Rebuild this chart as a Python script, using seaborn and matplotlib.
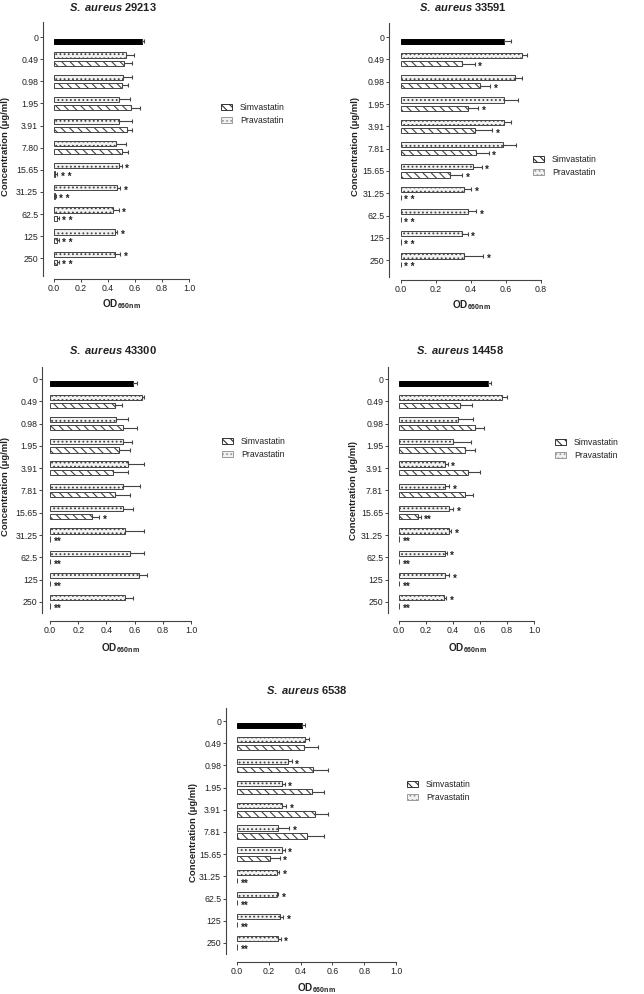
import numpy as np
import pandas as pd
import matplotlib
matplotlib.use("Agg")
import matplotlib.pyplot as plt
import seaborn as sns
from matplotlib.patches import Patch

# ---------------- data ----------------
conc_29213 = ['0', '0.49', '0.98', '1.95', '3.91', '7.80', '15.65', '31.25', '62.5', '125', '250']
conc_std = ['0', '0.49', '0.98', '1.95', '3.91', '7.81', '15.65', '31.25', '62.5', '125', '250']

# S. aureus 29213
ctrl_29213, ctrl_err_29213 = 0.65, 0.02
prav_29213 = [0.53, 0.51, 0.48, 0.48, 0.46, 0.48, 0.47, 0.44, 0.45, 0.45]
prav_err_29213 = [0.06, 0.07, 0.08, 0.10, 0.07, 0.02, 0.02, 0.04, 0.02, 0.04]
simv_29213 = [0.52, 0.50, 0.57, 0.54, 0.50, 0.01, 0.005, 0.02, 0.02, 0.025]
simv_err_29213 = [0.06, 0.05, 0.07, 0.04, 0.05, 0.015, 0.01, 0.015, 0.015, 0.01]
sigp_29213 = ['', '', '', '', '', '*', '*', '*', '*', '*']
sigs_29213 = ['', '', '', '', '', '* *', '* *', '* *', '* *', '* *']

# S. aureus 33591
ctrl_33591, ctrl_err_33591 = 0.59, 0.04
prav_33591 = [0.69, 0.65, 0.59, 0.59, 0.585, 0.41, 0.36, 0.38, 0.35, 0.36]
prav_err_33591 = [0.03, 0.04, 0.08, 0.04, 0.07, 0.05, 0.04, 0.05, 0.03, 0.11]
simv_33591 = [0.35, 0.45, 0.38, 0.42, 0.43, 0.28, 0, 0, 0, 0]
simv_err_33591 = [0.07, 0.06, 0.06, 0.10, 0.07, 0.07, 0, 0, 0, 0]
sigp_33591 = ['', '', '', '', '', '*', '*', '*', '*', '*']
sigs_33591 = ['*', '*', '*', '*', '*', '*', '* *', '* *', '* *', '* *']

# S. aureus 43300
ctrl_43300, ctrl_err_43300 = 0.59, 0.03
prav_43300 = [0.65, 0.47, 0.52, 0.55, 0.52, 0.52, 0.53, 0.57, 0.63, 0.53]
prav_err_43300 = [0.02, 0.08, 0.06, 0.12, 0.12, 0.07, 0.14, 0.10, 0.06, 0.06]
simv_43300 = [0.46, 0.52, 0.49, 0.45, 0.46, 0.30, 0, 0, 0, 0]
simv_err_43300 = [0.05, 0.10, 0.08, 0.10, 0.11, 0.05, 0, 0, 0, 0]
sigp_43300 = ['', '', '', '', '', '', '', '', '', '']
sigs_43300 = ['', '', '', '', '', '*', '**', '**', '**', '**']

# S. aureus 14458
ctrl_14458, ctrl_err_14458 = 0.66, 0.02
prav_14458 = [0.76, 0.44, 0.40, 0.34, 0.34, 0.37, 0.37, 0.34, 0.34, 0.33]
prav_err_14458 = [0.04, 0.11, 0.13, 0.02, 0.03, 0.03, 0.015, 0.015, 0.03, 0.02]
simv_14458 = [0.45, 0.56, 0.49, 0.51, 0.49, 0.14, 0, 0, 0, 0]
simv_err_14458 = [0.09, 0.07, 0.07, 0.09, 0.06, 0.02, 0, 0, 0, 0]
sigp_14458 = ['', '', '', '*', '*', '*', '*', '*', '*', '*']
sigs_14458 = ['', '', '', '', '', '**', '**', '**', '**', '**']

# S. aureus 6538
ctrl_6538, ctrl_err_6538 = 0.41, 0.02
prav_6538 = [0.43, 0.32, 0.28, 0.28, 0.26, 0.28, 0.25, 0.25, 0.27, 0.26]
prav_err_6538 = [0.02, 0.025, 0.02, 0.03, 0.07, 0.02, 0.015, 0.01, 0.02, 0.015]
simv_6538 = [0.42, 0.48, 0.47, 0.49, 0.44, 0.21, 0, 0, 0, 0]
simv_err_6538 = [0.09, 0.09, 0.08, 0.08, 0.11, 0.06, 0, 0, 0, 0]
sigp_6538 = ['', '*', '*', '*', '*', '*', '*', '*', '*', '*']
sigs_6538 = ['', '', '', '', '', '*', '**', '**', '**', '**']

# ---------------- style ----------------
sns.set_style("ticks")
plt.rcParams['font.family'] = ['Liberation Sans', 'DejaVu Sans']
plt.rcParams['mathtext.fontset'] = 'custom'
plt.rcParams['mathtext.rm'] = 'Liberation Sans:bold'
plt.rcParams['mathtext.bf'] = 'Liberation Sans:bold'
plt.rcParams['mathtext.it'] = 'Liberation Sans:italic:bold'
plt.rcParams['hatch.linewidth'] = 0.8

W, H = 644, 994
fig = plt.figure(figsize=(W / 100, H / 100), dpi=100)

EDGE = '#444444'
TXT = '#222222'
SIMV_HATCH = '\\\\\\\\'
PRAV_HATCH = '....'
PRAV_FACE = '#f2f2f2'
PRAV_HCOL = '#9a9a9a'
HUE_ORDER = ['Pravastatin', 'Simvastatin']


def px_axes(x0, x1, yt, yb):
    return fig.add_axes([x0 / W, 1 - yb / H, (x1 - x0) / W, (yb - yt) / H])


def draw_panel(ax, conc, ctrl, ctrl_err, prav, prav_err, simv, simv_err, sigp, sigs,
               xmax, ylim):
    cats = conc[1:]
    df_ctrl = pd.DataFrame({'conc': [conc[0]], 'drug': ['Simvastatin'], 'od': [ctrl], 'err': [ctrl_err], 'sig': ['']})
    df_p = pd.DataFrame({'conc': cats, 'drug': 'Pravastatin', 'od': prav, 'err': prav_err, 'sig': sigp})
    df_s = pd.DataFrame({'conc': cats, 'drug': 'Simvastatin', 'od': simv, 'err': simv_err, 'sig': sigs})
    specs = [
        (df_p, {'Pravastatin': PRAV_FACE, 'Simvastatin': PRAV_FACE}, PRAV_HATCH, PRAV_HCOL),
        (df_s, {'Pravastatin': 'white', 'Simvastatin': 'white'}, SIMV_HATCH, '#333333'),
        (df_ctrl, {'Pravastatin': 'black', 'Simvastatin': 'black'}, None, None),
    ]
    for d, pal, hatch, hcol in specs:
        n_before = len(ax.containers)
        sns.barplot(data=d, x='od', y='conc', hue='drug', hue_order=HUE_ORDER, order=conc,
                    palette=pal, orient='h', width=0.74, gap=0.36, dodge=True,
                    errorbar=None, legend=False, ax=ax, saturation=1,
                    edgecolor=EDGE, linewidth=0.7)
        new_patches = [p for c in ax.containers[n_before:] for p in c]
        for p in new_patches:
            yc = p.get_y() + p.get_height() / 2
            idx = int(round(yc))
            sel = d[d['conc'] == conc[idx]]
            if len(sel) == 0:
                continue
            row = sel.iloc[0]
            if hatch is not None:
                p.set_hatch(hatch)
                if hasattr(p, 'set_hatchcolor'):
                    p.set_hatchcolor(hcol)
            else:
                p.set_edgecolor('black')
            w = p.get_width()
            e = row['err']
            if e > 0:
                ax.errorbar([w], [yc], xerr=[[0], [e]], fmt='none', ecolor=EDGE,
                            elinewidth=0.8, capsize=1.7, capthick=0.8)
            if row['sig']:
                ax.annotate(row['sig'], xy=(w + e, yc), xytext=(2.5, -2.2),
                            textcoords='offset points', ha='left', va='center',
                            fontsize=7, color=TXT, fontweight='bold')
    ax.set_xlim(0, xmax)
    ax.set_ylim(ylim[1], ylim[0])
    ticks = np.arange(0, xmax + 1e-9, 0.2)
    ax.set_xticks(ticks)
    ax.set_xticklabels([f'{v:.1f}' for v in ticks])
    ax.set_xlabel('')
    ax.set_ylabel('')
    ax.tick_params(axis='both', labelsize=6.3, colors=EDGE, labelcolor=TXT, length=2.2, width=0.7, pad=1.2)
    for s in ['left', 'bottom']:
        ax.spines[s].set_color(EDGE)
        ax.spines[s].set_linewidth(0.8)


panels = [
    dict(conc=conc_29213, ctrl=ctrl_29213, ctrl_err=ctrl_err_29213, prav=prav_29213, prav_err=prav_err_29213,
         simv=simv_29213, simv_err=simv_err_29213, sigp=sigp_29213, sigs=sigs_29213, name='29213',
         box=(54, 189, 22, 276), ylim=(-0.68, 10.8), xmax=1.0, off=(8, 2.5),
         title=(113, 7), ylab=(6, 147), xlab=(121, 304), leg=(221, 114)),
    dict(conc=conc_std, ctrl=ctrl_33591, ctrl_err=ctrl_err_33591, prav=prav_33591, prav_err=prav_err_33591,
         simv=simv_33591, simv_err=simv_err_33591, sigp=sigp_33591, sigs=sigs_33591, name='33591',
         box=(401, 541, 23, 277), ylim=(-0.63, 10.75), xmax=0.8, off=(8.5, 2.5),
         title=(463, 7), ylab=(355, 147), xlab=(471, 305), leg=(533, 166)),
    dict(conc=conc_std, ctrl=ctrl_43300, ctrl_err=ctrl_err_43300, prav=prav_43300, prav_err=prav_err_43300,
         simv=simv_43300, simv_err=simv_err_43300, sigp=sigp_43300, sigs=sigs_43300, name='43300',
         box=(50, 191, 367, 613), ylim=(-0.54, 10.5), xmax=1.0, off=(5.5, 6),
         title=(113, 350), ylab=(6, 487), xlab=(120, 648), leg=(222, 448)),
    dict(conc=conc_std, ctrl=ctrl_14458, ctrl_err=ctrl_err_14458, prav=prav_14458, prav_err=prav_err_14458,
         simv=simv_14458, simv_err=simv_err_14458, sigp=sigp_14458, sigs=sigs_14458, name='14458',
         box=(399, 534, 367, 613), ylim=(-0.54, 10.5), xmax=1.0, off=(8, 6),
         title=(460, 350), ylab=(354, 490), xlab=(467, 648), leg=(555, 449)),
    dict(conc=conc_std, ctrl=ctrl_6538, ctrl_err=ctrl_err_6538, prav=prav_6538, prav_err=prav_err_6538,
         simv=simv_6538, simv_err=simv_err_6538, sigp=sigp_6538, sigs=sigs_6538, name='6538',
         box=(237, 396, 708, 954), ylim=(-0.59, 10.5), xmax=1.0, off=(8, 6),
         title=(307, 690), ylab=(193, 833), xlab=(316, 988), leg=(407, 791)),
]

for P in panels:
    ax = px_axes(*P['box'])
    draw_panel(ax, P['conc'], P['ctrl'], P['ctrl_err'], P['prav'], P['prav_err'],
               P['simv'], P['simv_err'], P['sigp'], P['sigs'], P['xmax'], P['ylim'])
    sns.despine(ax=ax, offset={'left': P['off'][0], 'bottom': P['off'][1]})
    tx, ty = P['title']
    fig.text(tx / W, 1 - ty / H, r'$\mathit{S.\ aureus}$ ' + P['name'], ha='center', va='center',
             fontsize=8, fontweight='bold', color=TXT)
    lx, ly = P['ylab']
    fig.text(lx / W, 1 - ly / H, 'Concentration (\u03bcg/ml)', rotation=90, ha='center', va='center',
             fontsize=6.8, fontweight='bold', color=TXT)
    xx, xy = P['xlab']
    fig.text(xx / W, 1 - xy / H, r'OD$_{\mathrm{660nm}}$', ha='center', va='center',
             fontsize=7.2, fontweight='bold', color=TXT)
    handles = [
        Patch(facecolor='white', edgecolor='#333333', hatch=SIMV_HATCH, linewidth=0.7, label='Simvastatin'),
        Patch(facecolor=PRAV_FACE, edgecolor=PRAV_HCOL, hatch=PRAV_HATCH, linewidth=0.7, label='Pravastatin'),
    ]
    gx, gy = P['leg']
    ax.legend(handles=handles, loc='center left', bbox_to_anchor=(gx / W, 1 - gy / H),
              bbox_transform=fig.transFigure, frameon=False, fontsize=6.2,
              handlelength=1.3, handleheight=0.7, handletextpad=0.9, labelspacing=0.5,
              borderpad=0, borderaxespad=0, labelcolor=TXT)

fig.savefig('out.png', dpi=100, facecolor='white')
